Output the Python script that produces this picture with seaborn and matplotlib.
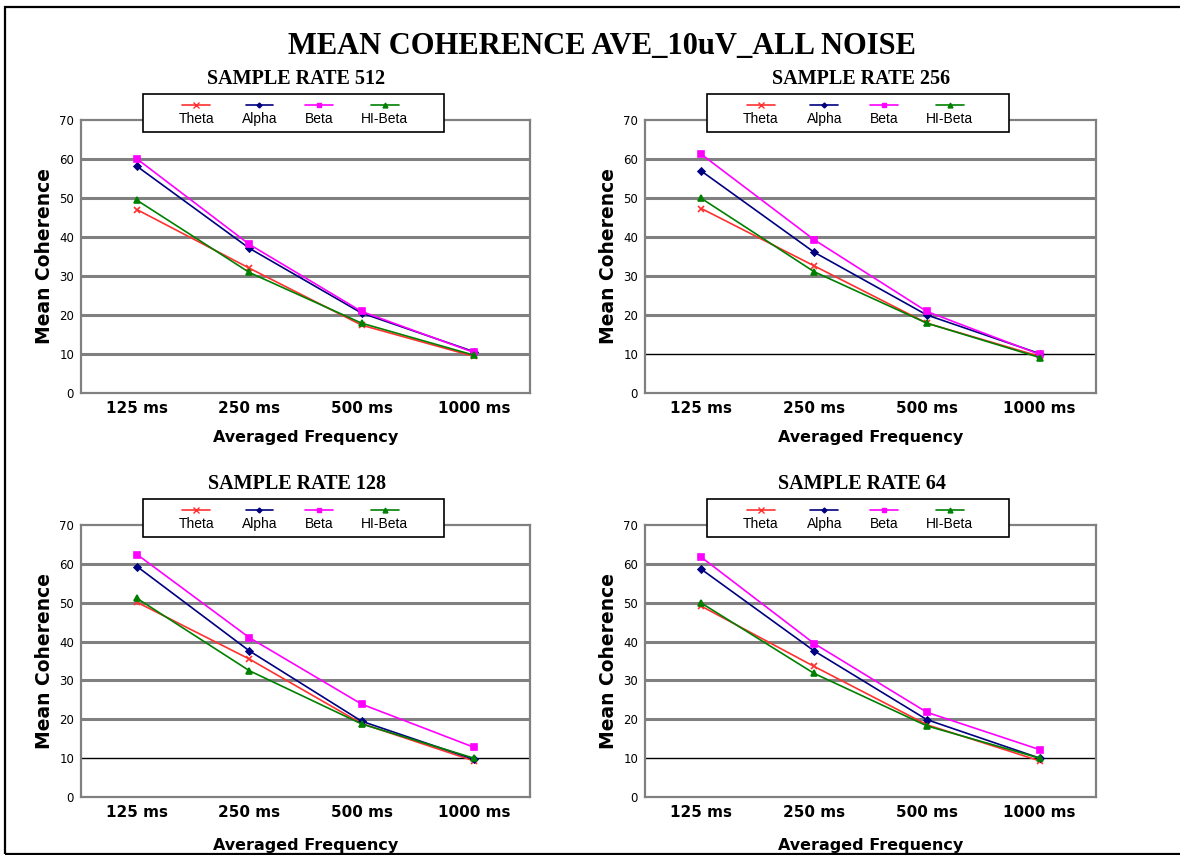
import pandas as pd
import matplotlib.pyplot as plt
import seaborn as sns
from matplotlib.lines import Line2D
from matplotlib.patches import Rectangle
from matplotlib.offsetbox import VPacker

# Datos
frecuencias = ['125 ms', '250 ms', '500 ms', '1000 ms']
bandas = ['Theta', 'Alpha', 'Beta', 'HI-Beta']

rate_512 = {
    'Theta':   [47.0, 32.0, 17.4, 9.4],
    'Alpha':   [58.1, 37.1, 20.5, 10.6],
    'Beta':    [60.0, 38.1, 20.9, 10.4],
    'HI-Beta': [49.4, 30.9, 17.9, 9.7],
}
rate_256 = {
    'Theta':   [47.3, 32.6, 17.9, 9.4],
    'Alpha':   [56.9, 36.1, 20.0, 10.1],
    'Beta':    [61.2, 39.3, 20.9, 9.9],
    'HI-Beta': [49.9, 31.1, 17.9, 9.1],
}
rate_128 = {
    'Theta':   [50.1, 35.5, 18.9, 9.3],
    'Alpha':   [59.3, 37.6, 19.5, 9.7],
    'Beta':    [62.4, 41.0, 23.9, 12.8],
    'HI-Beta': [51.1, 32.5, 18.8, 10.0],
}
rate_64 = {
    'Theta':   [49.1, 33.6, 18.6, 9.3],
    'Alpha':   [58.6, 37.6, 19.9, 10.0],
    'Beta':    [61.7, 39.5, 21.8, 12.2],
    'HI-Beta': [49.9, 31.8, 18.3, 10.0],
}
paneles = [('SAMPLE RATE 512', rate_512), ('SAMPLE RATE 256', rate_256),
           ('SAMPLE RATE 128', rate_128), ('SAMPLE RATE 64', rate_64)]

colores = {'Theta': '#ff3030', 'Alpha': '#000080', 'Beta': '#ff00ff', 'HI-Beta': '#008000'}
marcadores = {'Theta': 'x', 'Alpha': 'D', 'Beta': 's', 'HI-Beta': '^'}
tam_marcador = {'Theta': 5, 'Alpha': 3.5, 'Beta': 4.5, 'HI-Beta': 4.5}

sns.set_style('white')
plt.rcParams['font.family'] = ['DejaVu Sans']
plt.rcParams['text.color'] = 'black'
plt.rcParams['axes.labelcolor'] = 'black'
plt.rcParams['xtick.color'] = 'black'
plt.rcParams['ytick.color'] = 'black'

fig = plt.figure(figsize=(11.8, 8.55), dpi=100)

# Marco negro alrededor de la figura
fig.patches.append(Rectangle((5 / 1180, 1 - 854 / 855), 1.0, 847 / 855, transform=fig.transFigure,
                             fill=False, edgecolor='black', linewidth=1.6))

fig.text(0.51, 0.946, 'MEAN COHERENCE AVE_10uV_ALL NOISE', ha='center', va='center',
         fontsize=22, fontweight='bold', family='Liberation Serif')

posiciones = [
    [81 / 1180, 1 - 393 / 855, 449 / 1180, 273 / 855],
    [645 / 1180, 1 - 393 / 855, 451 / 1180, 273 / 855],
    [81 / 1180, 1 - 797 / 855, 449 / 1180, 272 / 855],
    [645 / 1180, 1 - 797 / 855, 451 / 1180, 272 / 855],
]

for i, (titulo, valores) in enumerate(paneles):
    ax = fig.add_axes(posiciones[i])
    filas = []
    for b in bandas:
        for f, v in zip(frecuencias, valores[b]):
            filas.append({'freq': f, 'banda': b, 'valor': v})
    df = pd.DataFrame(filas)

    for b in bandas:
        sub = df[df['banda'] == b]
        sns.lineplot(data=sub, x='freq', y='valor', color=colores[b], marker=marcadores[b],
                     markersize=tam_marcador[b], markeredgecolor=colores[b], markeredgewidth=1.2,
                     linewidth=1.2, sort=False, ax=ax, zorder=3)

    ax.set_xlim(-0.5, 3.5)
    ax.set_ylim(0, 70)
    ax.set_yticks(range(0, 80, 10))
    ax.set_xticks(range(len(frecuencias)))
    ax.set_xticklabels(frecuencias, fontsize=11, fontweight='bold')
    ax.set_xticks([0.5, 1.5, 2.5], minor=True)
    ax.tick_params(axis='x', which='major', length=0, pad=6)
    ax.tick_params(axis='x', which='minor', length=3, color='#808080', width=1)
    ax.tick_params(axis='y', length=3, color='#808080', width=1, labelsize=8.5, pad=2)

    # Lineas de cuadricula
    for y in range(10, 70, 10):
        if y == 10 and i > 0:
            ax.axhline(y, color='black', linewidth=1.0, zorder=1)
        else:
            ax.axhline(y, color='#808080', linewidth=2.2, zorder=1)

    for s in ax.spines.values():
        s.set_color('#808080')
        s.set_linewidth(1.6)

    ax.set_xlabel('Averaged Frequency', fontsize=11.5, fontweight='bold',
                  labelpad=10 if i < 2 else 13)
    ax.set_ylabel('Mean Coherence', fontsize=13.5, fontweight='bold', labelpad=4)

    ax.text(0.48, 1.15, titulo, transform=ax.transAxes, ha='center', va='center',
            fontsize=14.5, fontweight='bold', family='Liberation Serif')

    # Leyenda con marcador encima del texto
    ax.add_patch(Rectangle((0.138, 0.956), 0.670, 0.139, transform=ax.transAxes, clip_on=False,
                           facecolor='white', edgecolor='black', linewidth=1.2, zorder=8))
    handles = [Line2D([], [], color=colores[b], marker=marcadores[b], markersize=tam_marcador[b] - 1,
                      linewidth=1.2) for b in bandas]
    leg = ax.legend(handles, bandas, ncol=4, loc='center', bbox_to_anchor=(0.473, 1.026),
                    frameon=False, handlelength=2.0, handletextpad=0.15, columnspacing=2.0,
                    borderpad=0, prop={'family': 'Liberation Sans', 'size': 10})
    leg.set_zorder(9)
    for col in leg._legend_handle_box.get_children():
        for row in col.get_children():
            row.__class__ = VPacker
            row.align = 'center'

fig.savefig('out.png', dpi=100)
